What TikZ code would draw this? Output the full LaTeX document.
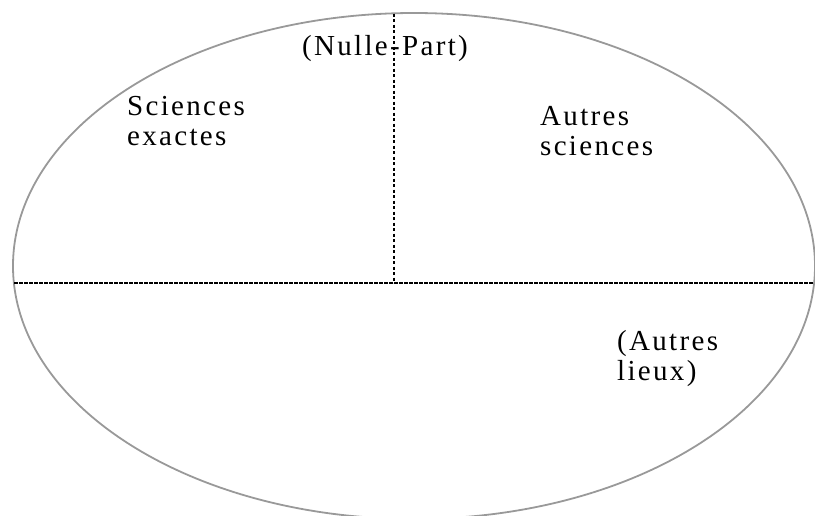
\documentclass[tikz,border=0pt]{standalone}
\usepackage{fontspec}
\setmainfont{Liberation Serif}[LetterSpace=8]
\begin{document}
\begin{tikzpicture}[x=1pt,y=-1pt,
  lbl/.style={inner sep=0pt,anchor=base west,align=left,font=\fontsize{29}{30}\selectfont},
  outline/.style={draw=black!40,line width=1.8pt},
  hsep/.style={draw=black,line width=1.6pt,dash pattern=on 3.5pt off 1.5pt},
  vsep/.style={draw=black,line width=2.2pt,dash pattern=on 3pt off 2.5pt}]
\useasboundingbox (0,0) rectangle (815,515);
\path[outline] (414,266) ellipse [x radius=401, y radius=253];
\coordinate (L) at (14,283);
\coordinate (R) at (814,283);
\coordinate (T) at (394,13.5);
\coordinate (C) at (394,283);
\path[hsep] (L) -- (R);
\path[vsep] (T) -- (C);
\node[lbl] (np) at (302,55) {(Nulle-Part)};
\node[lbl] (se) at (127,145) {Sciences\\exactes};
\node[lbl] (as) at (540,155) {Autres\\sciences};
\node[lbl] (al) at (617,380) {(Autres\\lieux)};
\end{tikzpicture}
\end{document}
